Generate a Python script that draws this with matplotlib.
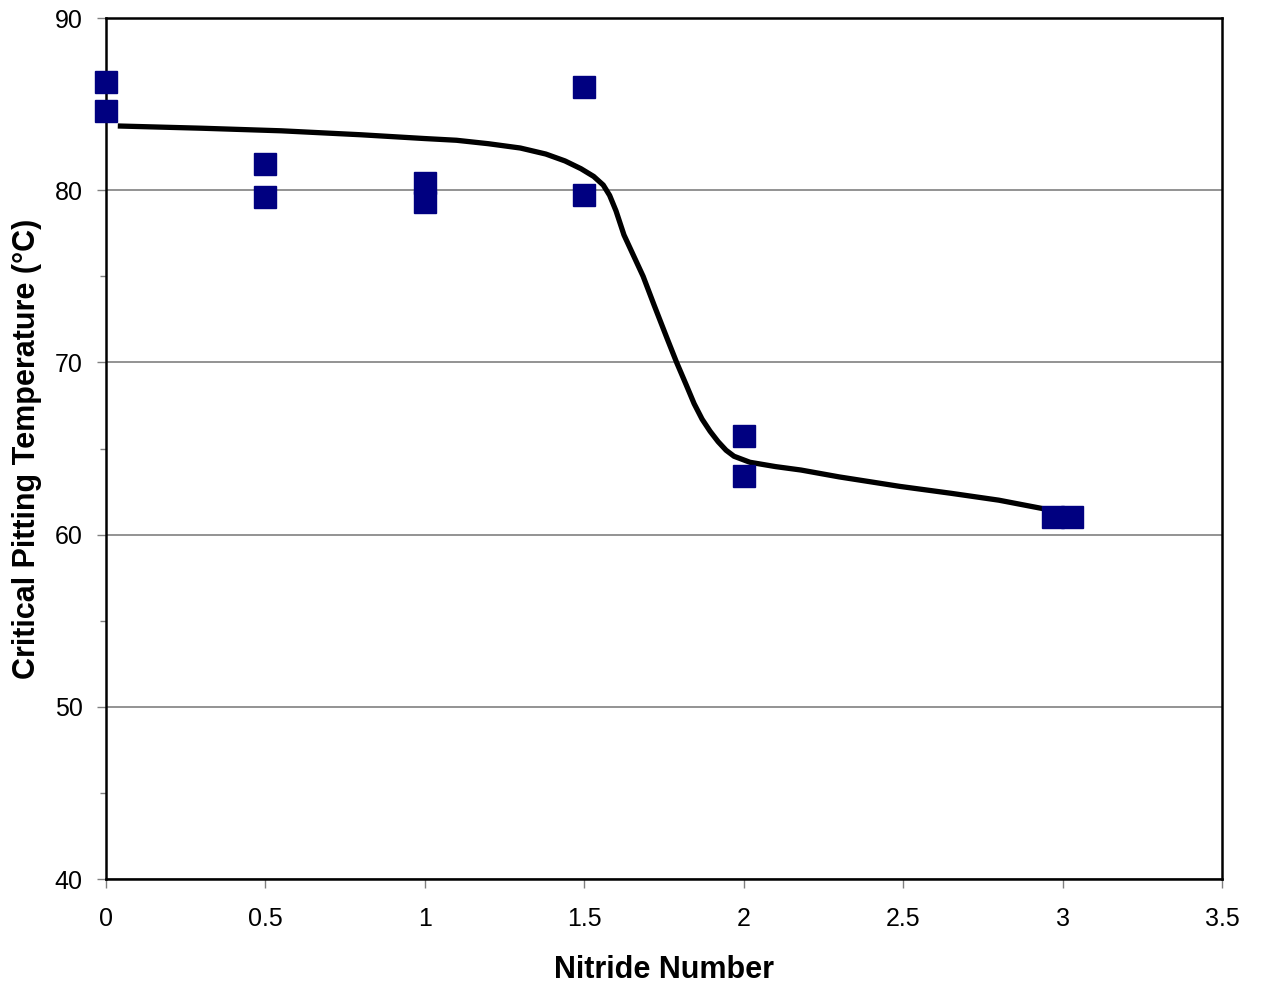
import numpy as np
import matplotlib
matplotlib.use("Agg")
import matplotlib.pyplot as plt
from matplotlib.ticker import MultipleLocator

plt.rcParams["font.family"] = ["Liberation Sans", "DejaVu Sans"]

# measured points (nitride number vs CPT)
nitride = [0.0, 0.0, 0.5, 0.5, 1.0, 1.0, 1.5, 1.5, 2.0, 2.0, 2.97, 3.03]
cpt = [86.3, 84.6, 81.5, 79.6, 80.4, 79.3, 86.0, 79.7, 65.7, 63.4, 61.0, 61.0]

# hand-drawn trend curve
curve_x = [0.038, 0.30, 0.55, 0.80, 1.00, 1.10, 1.20, 1.30, 1.38, 1.44, 1.49,
           1.53, 1.56, 1.58, 1.60, 1.625, 1.65, 1.685, 1.72, 1.76, 1.79, 1.82,
           1.845, 1.87, 1.895, 1.92, 1.945, 1.97, 2.02, 2.10, 2.18, 2.30, 2.49,
           2.65, 2.80, 2.997]
curve_y = [83.73, 83.6, 83.45, 83.22, 83.0, 82.9, 82.7, 82.45, 82.1, 81.7, 81.25,
           80.8, 80.3, 79.7, 78.8, 77.4, 76.4, 75.0, 73.3, 71.4, 70.0, 68.7,
           67.6, 66.7, 66.0, 65.4, 64.9, 64.55, 64.2, 63.95, 63.75, 63.35, 62.8,
           62.4, 62.0, 61.3]

fig = plt.figure(figsize=(12.64, 9.84), dpi=100)
ax = fig.add_axes([0.0836, 0.1067, 0.9668 - 0.0836, 0.9817 - 0.1067])

ax.plot(curve_x, curve_y, color="black", lw=3.8, solid_capstyle="butt",
        solid_joinstyle="round", zorder=3)
ax.plot(nitride, cpt, ls="none", marker="s", ms=16.5, color="#000080",
        mec="#000080", clip_on=False, zorder=4)

ax.set_xlim(0, 3.5)
ax.set_ylim(40, 90)
ax.set_xticks(np.arange(0, 3.51, 0.5))
ax.set_xticklabels(["0", "0.5", "1", "1.5", "2", "2.5", "3", "3.5"])
ax.yaxis.set_major_locator(MultipleLocator(10))
ax.yaxis.set_minor_locator(MultipleLocator(5))

ax.yaxis.grid(True, which="major", color="#808080", lw=1.2)
ax.set_axisbelow(True)

for s in ax.spines.values():
    s.set_linewidth(1.8)
    s.set_color("black")

ax.tick_params(axis="both", which="major", direction="out", length=6.5,
               width=1.0, color="#808080", labelsize=18, pad=10)
ax.tick_params(axis="x", which="major", pad=14)
ax.tick_params(axis="y", which="minor", direction="out", length=4.5,
               width=1.0, color="#808080")

ax.set_xlabel("Nitride Number", fontsize=22, fontweight="bold", labelpad=17)
ax.set_ylabel("Critical Pitting Temperature (\u00b0C)", fontsize=22,
              fontweight="bold", labelpad=9.5)

fig.savefig("out.png", dpi=100)
